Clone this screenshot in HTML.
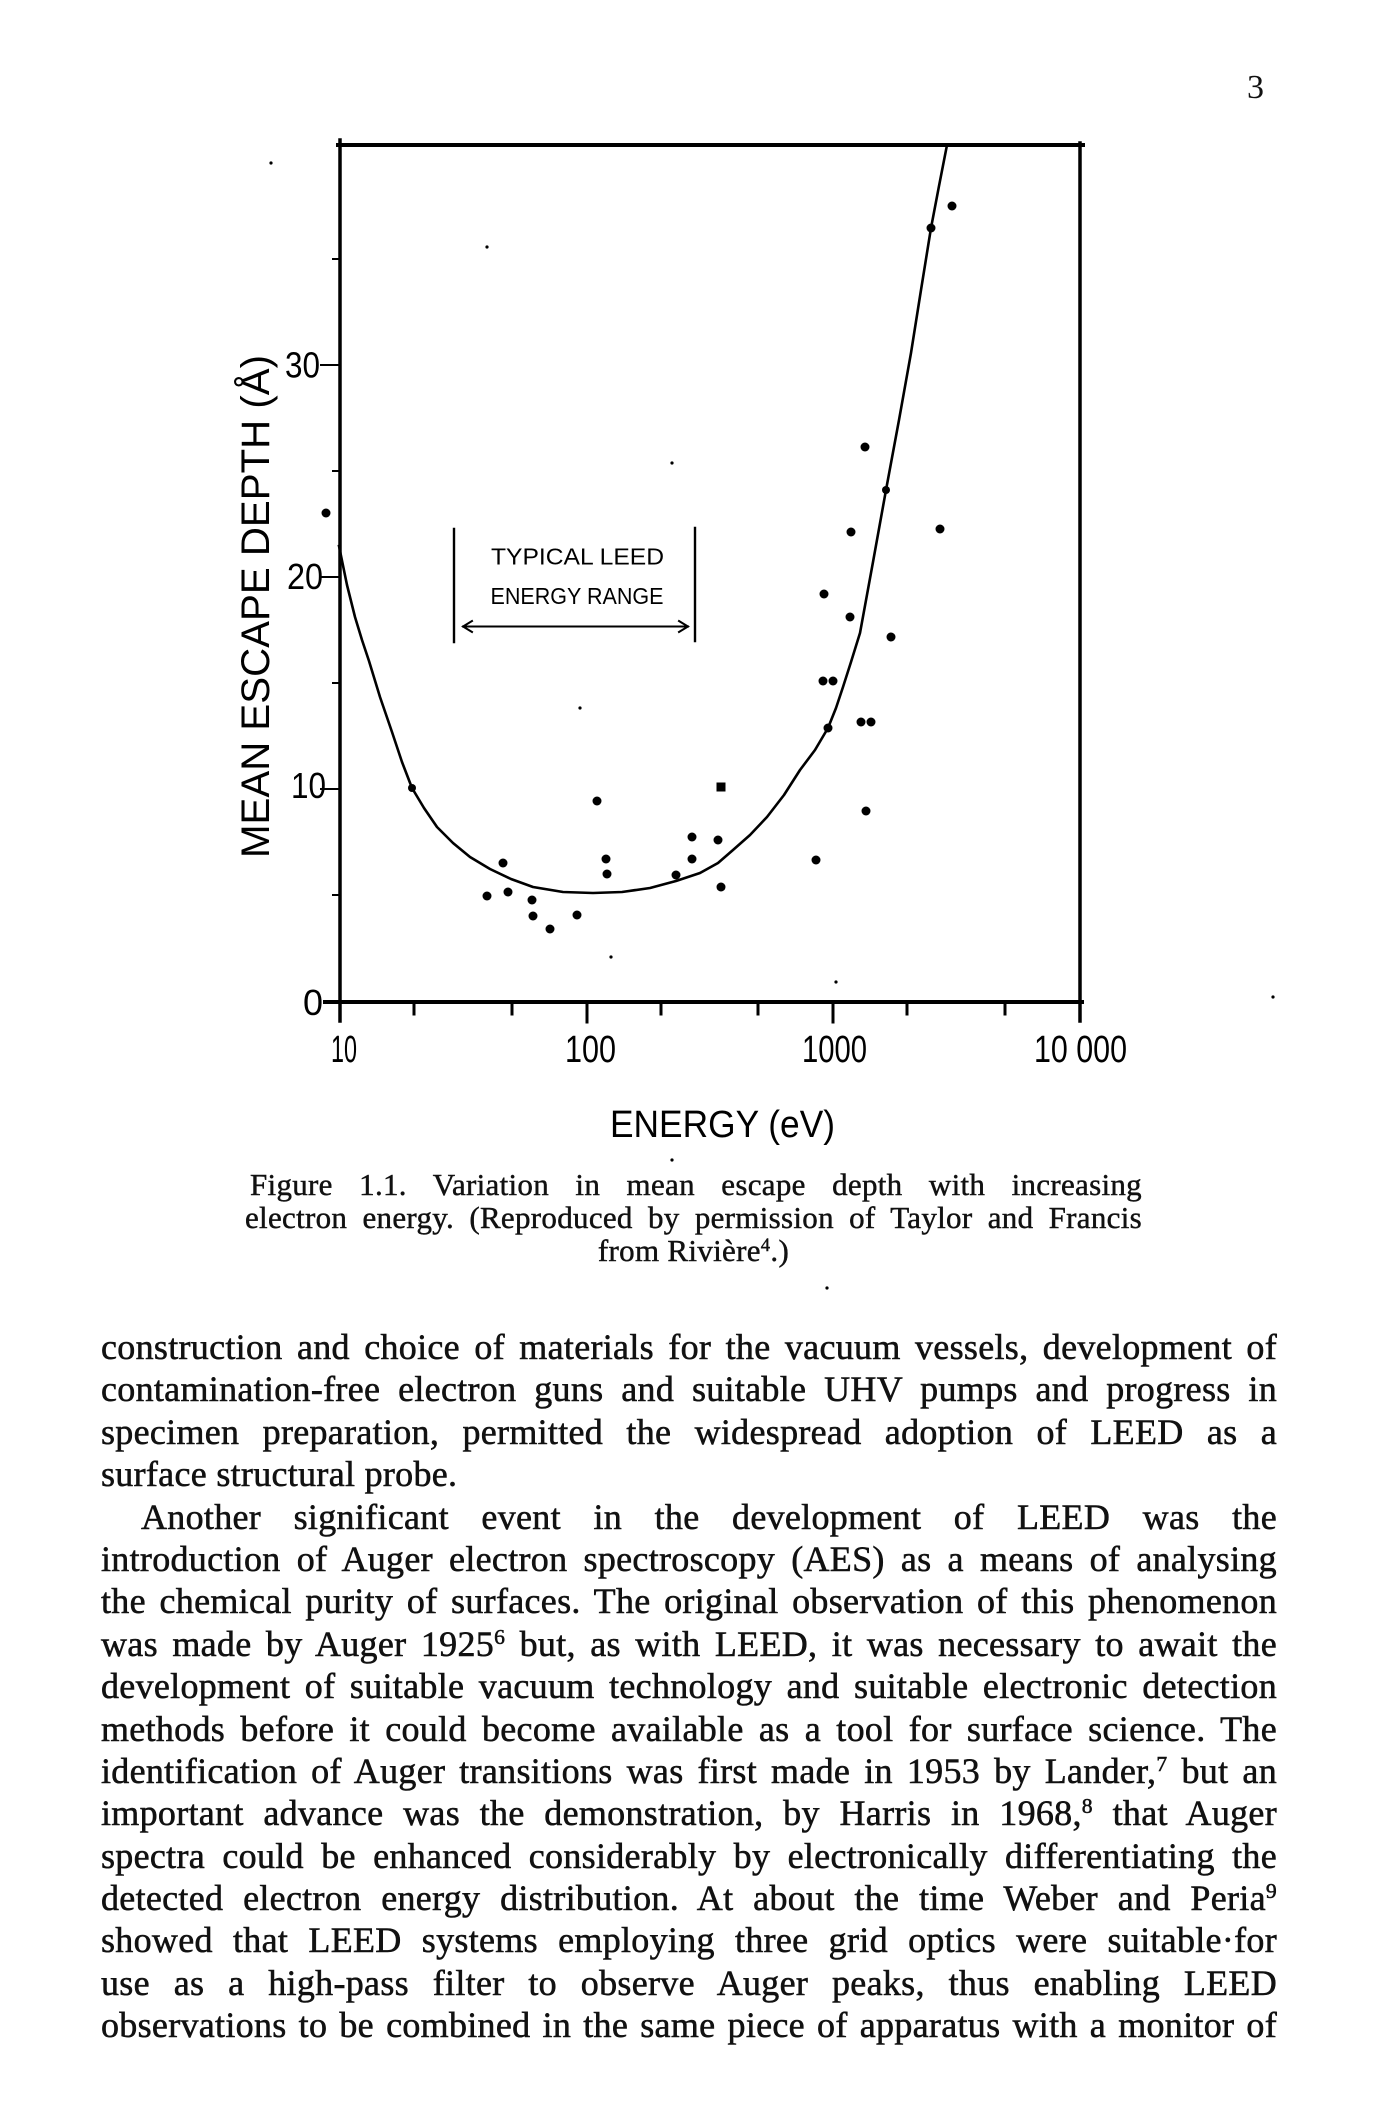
<!DOCTYPE html>
<html>
<head>
<meta charset="utf-8">
<style>
  html,body{margin:0;padding:0;background:#fff;}
  body{width:1379px;height:2127px;position:relative;overflow:hidden;}
  svg{position:absolute;left:0;top:0;}
  .pn{position:absolute;left:1247px;top:68px;font:34px "Liberation Serif",serif;color:#111;line-height:40px;}
  .cap{position:absolute;left:245px;top:1168px;width:897px;font:31px/33px "Liberation Serif",serif;color:#111;-webkit-text-stroke:0.45px #111;letter-spacing:0.3px;}
  .cap div{text-align:justify;text-align-last:justify;}
  .cap .c{text-align:center;text-align-last:center;}
  .body{position:absolute;left:101px;top:1326px;width:1176px;font:36px/42.4px "Liberation Serif",serif;color:#111;-webkit-text-stroke:0.55px #111;letter-spacing:0.3px;}
  .body div{text-align:justify;text-align-last:justify;height:42.4px;}
  .body .last{text-align:left;text-align-last:left;}
  .body .ind{padding-left:40px;}
  .s{font-size:60%;position:relative;top:-0.55em;line-height:0;}
</style>
</head>
<body>
<svg width="1379" height="1300" viewBox="0 0 1379 1300" xmlns="http://www.w3.org/2000/svg">
  <g stroke="#000" fill="none" stroke-linecap="square">
    <line x1="340" y1="140" x2="340" y2="1021" stroke-width="3.5"/>
    <line x1="338" y1="145" x2="1083" y2="145" stroke-width="4"/>
    <line x1="1080" y1="143" x2="1080" y2="1021" stroke-width="3.5"/>
    <line x1="325" y1="1002" x2="1082" y2="1002" stroke-width="4"/>
    <line x1="321" y1="789" x2="340" y2="789" stroke-width="2"/>
    <line x1="321" y1="577" x2="340" y2="577" stroke-width="2"/>
    <line x1="321" y1="365" x2="340" y2="365" stroke-width="2"/>
    <line x1="333" y1="895" x2="340" y2="895" stroke-width="2"/>
    <line x1="333" y1="683" x2="340" y2="683" stroke-width="2"/>
    <line x1="333" y1="471" x2="340" y2="471" stroke-width="2"/>
    <line x1="333" y1="259" x2="340" y2="259" stroke-width="2"/>
    <line x1="414" y1="1002" x2="414" y2="1014" stroke-width="3"/>
    <line x1="512" y1="1002" x2="512" y2="1014" stroke-width="3"/>
    <line x1="587" y1="1002" x2="587" y2="1022" stroke-width="3"/>
    <line x1="661" y1="1002" x2="661" y2="1014" stroke-width="3"/>
    <line x1="758" y1="1002" x2="758" y2="1014" stroke-width="3"/>
    <line x1="833" y1="1002" x2="833" y2="1022" stroke-width="3"/>
    <line x1="907" y1="1002" x2="907" y2="1014" stroke-width="3"/>
    <line x1="1005" y1="1002" x2="1005" y2="1014" stroke-width="3"/>
    <polyline stroke-width="2.6" stroke-linejoin="round" points="339,546 347,585 355,617 362,640 369,661 380,697 392,732 402,762 412,788 424,808 437,827 453,843 470,857 490,869 511,879 533,887 563,892 593,893 622,892 650,888 676,881 700,873 718,863 733,850 750,835 767,817 784,795 800,770 815,750 828,728 836,708 843,687 851,662 860,633 873,562 886,490 899,420 911,353 921,290 931,228 939,186 947,145"/>
    <line x1="454" y1="529" x2="454" y2="642" stroke-width="2.4"/>
    <line x1="695" y1="528" x2="695" y2="641" stroke-width="2.4"/>
    <line x1="463" y1="626.5" x2="688" y2="626.5" stroke-width="2"/>
    <polyline points="472,621 463,626.5 472,632" stroke-width="2"/>
    <polyline points="679,621 688,626.5 679,632" stroke-width="2"/>
  </g>
  <g fill="#000">
    <circle cx="326" cy="513" r="4.5"/>
    <circle cx="412" cy="788" r="4"/>
    <circle cx="503" cy="863" r="4.5"/>
    <circle cx="487" cy="896" r="4.5"/>
    <circle cx="508" cy="892" r="4.5"/>
    <circle cx="532" cy="900" r="4.5"/>
    <circle cx="533" cy="916" r="4.5"/>
    <circle cx="550" cy="929" r="4.5"/>
    <circle cx="577" cy="915" r="4.5"/>
    <circle cx="597" cy="801" r="4.5"/>
    <circle cx="606" cy="859" r="4.5"/>
    <circle cx="607" cy="874" r="4.5"/>
    <circle cx="676" cy="875" r="4.5"/>
    <circle cx="692" cy="837" r="4.5"/>
    <circle cx="692" cy="859" r="4.5"/>
    <circle cx="718" cy="840" r="4.5"/>
    <rect x="716.5" y="782.5" width="9" height="9"/>
    <circle cx="721" cy="887" r="4.5"/>
    <circle cx="816" cy="860" r="4.5"/>
    <circle cx="828" cy="728" r="4.5"/>
    <circle cx="823" cy="681" r="4.5"/>
    <circle cx="833" cy="681" r="4.5"/>
    <circle cx="824" cy="594" r="4.5"/>
    <circle cx="850" cy="617" r="4.5"/>
    <circle cx="851" cy="532" r="4.5"/>
    <circle cx="861" cy="722" r="4.5"/>
    <circle cx="871" cy="722" r="4.5"/>
    <circle cx="866" cy="811" r="4.5"/>
    <circle cx="891" cy="637" r="4.5"/>
    <circle cx="865" cy="447" r="4.5"/>
    <circle cx="886" cy="490" r="4"/>
    <circle cx="940" cy="529" r="4.5"/>
    <circle cx="931" cy="228" r="4.5"/>
    <circle cx="952" cy="206" r="4.5"/>
    <circle cx="487" cy="247" r="1.6"/>
    <circle cx="672" cy="463" r="1.6"/>
    <circle cx="580" cy="708" r="1.6"/>
    <circle cx="611" cy="957" r="1.6"/>
    <circle cx="836" cy="982" r="1.6"/>
    <circle cx="271" cy="163" r="1.6"/>
    <circle cx="672" cy="1160" r="1.6"/>
    <circle cx="827" cy="1288" r="1.6"/>
    <circle cx="1273" cy="997" r="1.6"/>
  </g>
  <g font-family="Liberation Sans, sans-serif" fill="#000">
    <text x="491" y="564.5" font-size="23" textLength="173" lengthAdjust="spacingAndGlyphs">TYPICAL  LEED</text>
    <text x="490.5" y="604" font-size="23" textLength="173" lengthAdjust="spacingAndGlyphs">ENERGY RANGE</text>
    <text x="285" y="377.5" font-size="36" textLength="35" lengthAdjust="spacingAndGlyphs">30</text>
    <text x="287" y="589" font-size="36" textLength="36" lengthAdjust="spacingAndGlyphs">20</text>
    <text x="291" y="798" font-size="36" textLength="35" lengthAdjust="spacingAndGlyphs">10</text>
    <text x="303" y="1015" font-size="36" textLength="20" lengthAdjust="spacingAndGlyphs">0</text>
    <text x="331" y="1062" font-size="38" textLength="26" lengthAdjust="spacingAndGlyphs">10</text>
    <text x="565" y="1062" font-size="38" textLength="51" lengthAdjust="spacingAndGlyphs">100</text>
    <text x="802" y="1062" font-size="38" textLength="65" lengthAdjust="spacingAndGlyphs">1000</text>
    <text x="1034" y="1062" font-size="38" textLength="93" lengthAdjust="spacingAndGlyphs">10 000</text>
    <text x="610" y="1137" font-size="38" textLength="225" lengthAdjust="spacingAndGlyphs">ENERGY  (eV)</text>
    <text transform="translate(269,606.5) rotate(-90)" x="0" y="0" text-anchor="middle" font-size="40" textLength="503" lengthAdjust="spacingAndGlyphs">MEAN ESCAPE DEPTH (Å)</text>
  </g>
</svg>

<div class="pn">3</div>

<div class="cap">
  <div style="padding-left:5px">Figure 1.1. Variation in mean escape depth with increasing</div>
  <div>electron energy. (Reproduced by permission of Taylor and Francis</div>
  <div class="c">from Rivière<span class="s">4</span>.)</div>
</div>

<div class="body">
  <div>construction and choice of materials for the vacuum vessels, development of</div>
  <div>contamination-free electron guns and suitable UHV pumps and progress in</div>
  <div>specimen preparation, permitted the widespread adoption of LEED as a</div>
  <div class="last">surface structural probe.</div>
  <div class="ind">Another significant event in the development of LEED was the</div>
  <div>introduction of Auger electron spectroscopy (AES) as a means of analysing</div>
  <div>the chemical purity of surfaces. The original observation of this phenomenon</div>
  <div>was made by Auger 1925<span class="s">6</span> but, as with LEED, it was necessary to await the</div>
  <div>development of suitable vacuum technology and suitable electronic detection</div>
  <div>methods before it could become available as a tool for surface science. The</div>
  <div>identification of Auger transitions was first made in 1953 by Lander,<span class="s">7</span> but an</div>
  <div>important advance was the demonstration, by Harris in 1968,<span class="s">8</span> that Auger</div>
  <div>spectra could be enhanced considerably by electronically differentiating the</div>
  <div>detected electron energy distribution. At about the time Weber and Peria<span class="s">9</span></div>
  <div>showed that LEED systems employing three grid optics were suitable·for</div>
  <div>use as a high-pass filter to observe Auger peaks, thus enabling LEED</div>
  <div>observations to be combined in the same piece of apparatus with a monitor of</div>
</div>
</body>
</html>
